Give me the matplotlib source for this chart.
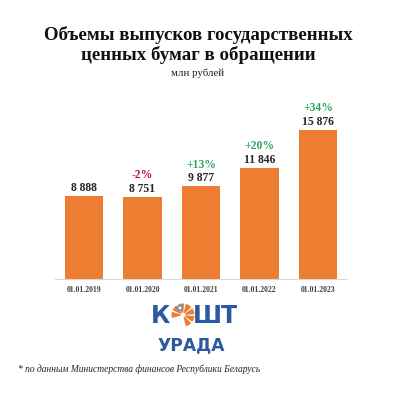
import matplotlib
matplotlib.use("Agg")
import matplotlib.pyplot as plt
from matplotlib.patches import Wedge, Circle

categories = ["01.01.2019", "01.01.2020", "01.01.2021", "01.01.2022", "01.01.2023"]
values = [8888, 8751, 9877, 11846, 15876]
value_labels = ["8 888", "8 751", "9 877", "11 846", "15 876"]
pct_labels = [None, "-2%", "+13%", "+20%", "+34%"]

ORANGE = "#ED7D31"
GREEN = "#2EA463"
RED = "#C8102E"
BLUE = "#2C5AA0"

W = H = 396
fig = plt.figure(figsize=(3.96, 3.96), dpi=100)
fig.patch.set_facecolor("white")

def fx(px):
    return px / W

def fy(py):
    return 1 - py / H

ax_left, ax_right = 55, 347
ax_bottom = 279
ymax = 20000
ax_h = 149 * ymax / 15876
ax = fig.add_axes([fx(ax_left), fy(ax_bottom), (ax_right - ax_left) / W, ax_h / H])

x = list(range(len(categories)))
ax.bar(x, values, width=0.65, color=ORANGE, zorder=2)
ax.set_xlim(-0.496, 4.496)
ax.set_ylim(0, ymax)
for s in ["top", "right", "left"]:
    ax.spines[s].set_visible(False)
ax.spines["bottom"].set_color("#D9D9D9")
ax.spines["bottom"].set_linewidth(0.8)
ax.set_yticks([])
ax.set_xticks(x)
ax.set_xticklabels(categories, family="Liberation Serif", fontweight="bold",
                   fontsize=5.6, color="#404040")
ax.tick_params(axis="x", length=0, pad=5)
ax.patch.set_alpha(0)

for i, v in enumerate(values):
    ax.annotate(value_labels[i], (i, v), xytext=(0, 1.3), textcoords="offset points",
                ha="center", va="bottom", family="Liberation Serif",
                fontweight="bold", fontsize=8.4, color="#262626")
    if pct_labels[i]:
        col = RED if pct_labels[i].startswith("-") else GREEN
        ax.annotate(pct_labels[i], (i, v), xytext=(0, 11.3), textcoords="offset points",
                    ha="center", va="bottom", family="Liberation Serif",
                    fontweight="bold", fontsize=8.4, color=col)

# Title
fig.text(0.5, fy(35), "Объемы выпусков государственных", ha="center", va="center",
         family="Liberation Serif", fontweight="bold", fontsize=13.6, color="#111111")
fig.text(0.5, fy(55), "ценных бумаг в обращении", ha="center", va="center",
         family="Liberation Serif", fontweight="bold", fontsize=13.6, color="#111111")
fig.text(0.5, fy(73), "млн рублей", ha="center", va="center",
         family="Liberation Serif", fontsize=7.8, color="#222222")

# Logo
fig.text(fx(161), fy(316), "К", ha="center", va="center", family="DejaVu Sans",
         fontweight="bold", fontsize=17, color=BLUE)
fig.text(fx(215), fy(316), "ШТ", ha="center", va="center", family="DejaVu Sans",
         fontweight="bold", fontsize=17, color=BLUE)
fig.text(fx(191), fy(345), "УРАДА", ha="center", va="center", family="DejaVu Sans",
         fontweight="bold", fontsize=12.3, color=BLUE)

lax = fig.add_axes([0, 0, 1, 1])
lax.set_xlim(0, W)
lax.set_ylim(H, 0)
lax.set_aspect("equal")
lax.axis("off")
cx, cy, r = 183, 315, 11.5
for a0 in range(0, 360, 40):
    if 80 <= a0 < 160:
        continue
    lax.add_patch(Wedge((cx, cy), r, a0 + 5, a0 + 36, width=r * 0.8,
                        facecolor=ORANGE, edgecolor="none"))
lax.add_patch(Circle((cx - 3, cy - 7), 3.2, facecolor="#6F95CC", edgecolor="none"))
lax.add_patch(Circle((cx - 3, cy - 7), 1.4, facecolor="white", edgecolor="none"))

# Footnote
fig.text(fx(18), fy(369), "* по данным Министерства финансов Республики Беларусь",
         ha="left", va="center", family="Liberation Serif", style="italic",
         fontsize=6.85, color="#222222")

fig.savefig("out.png", dpi=100, facecolor="white")
